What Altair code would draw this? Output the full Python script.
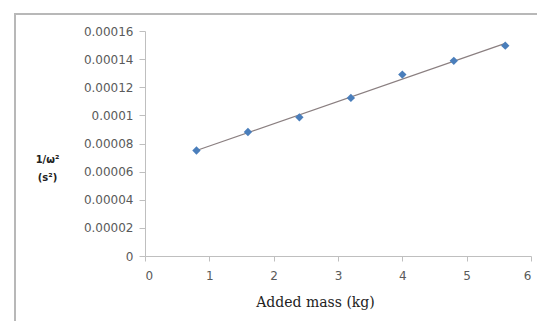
import altair as alt
import pandas as pd

mass = [0.8, 1.6, 2.4, 3.2, 4.0, 4.8, 5.6]
inv_omega_sq = [0.0000750, 0.0000882, 0.0000986, 0.0001124, 0.0001290, 0.0001388, 0.0001496]
y_ticks = [0, 0.00002, 0.00004, 0.00006, 0.00008, 0.0001, 0.00012, 0.00014, 0.00016]
x_ticks = [0, 1, 2, 3, 4, 5, 6]

df = pd.DataFrame({"mass": mass, "inv": inv_omega_sq})

xs = alt.Scale(domain=[0, 6], nice=False, zero=True)
ys = alt.Scale(domain=[0, 0.00016], nice=False)

x_axis = alt.Axis(
    values=x_ticks, labelExpr="'' + datum.value", labelOverlap=False, title="Added mass (kg)", grid=False,
    domainColor="#bfbfbf", tickColor="#bfbfbf", tickSize=5,
    labelFont="DejaVu Sans", labelFontSize=12, labelColor="#5a5a5a", labelPadding=9,
    titleFont="DejaVu Serif", titleFontSize=14, titleFontWeight="normal", titleColor="#222222",
    titleX=170, titleY=46, titleAlign="center", titleBaseline="middle",
)
y_axis = alt.Axis(
    values=y_ticks, labelExpr="'' + datum.value", labelOverlap=False, grid=False,
    title=["1/\u03c9\u00b2", "(s\u00b2)"], titleAngle=0,
    domainColor="#bfbfbf", tickColor="#bfbfbf", tickSize=6,
    labelFont="DejaVu Sans", labelFontSize=12, labelColor="#5a5a5a", labelPadding=6,
    titleFont="DejaVu Sans", titleFontSize=10, titleFontWeight="bold", titleColor="#222222",
    titleX=-98, titleY=128, titleAlign="center", titleBaseline="middle", titleLineHeight=18,
)

base = alt.Chart(df)

frame = alt.Chart(pd.DataFrame({"f": [0]})).mark_rect(
    fill=None, stroke="#b8b8b8", strokeWidth=2
).encode(
    x=alt.value(-130), x2=alt.value(700), y=alt.value(-17), y2=alt.value(500)
)

trend = base.transform_regression("mass", "inv", method="linear").mark_line(
    color="#8a7f80", strokeWidth=1.2
).encode(
    x=alt.X("mass:Q", scale=xs, axis=x_axis),
    y=alt.Y("inv:Q", scale=ys, axis=y_axis),
)

points = base.mark_point(shape="diamond", filled=True, color="#4a7ebb", size=70, opacity=1).encode(
    x=alt.X("mass:Q", scale=xs, axis=x_axis),
    y=alt.Y("inv:Q", scale=ys, axis=y_axis),
)

chart = alt.layer(frame, trend, points).properties(
    width=386, height=225,
    autosize=alt.AutoSizeParams(type="none"),
    padding={"left": 137, "top": 23, "right": 6, "bottom": 65},
).configure_view(stroke=None).configure_axis(labelOverlap=False)

chart.save("out.html", embed_options={"renderer": "svg", "actions": False})
